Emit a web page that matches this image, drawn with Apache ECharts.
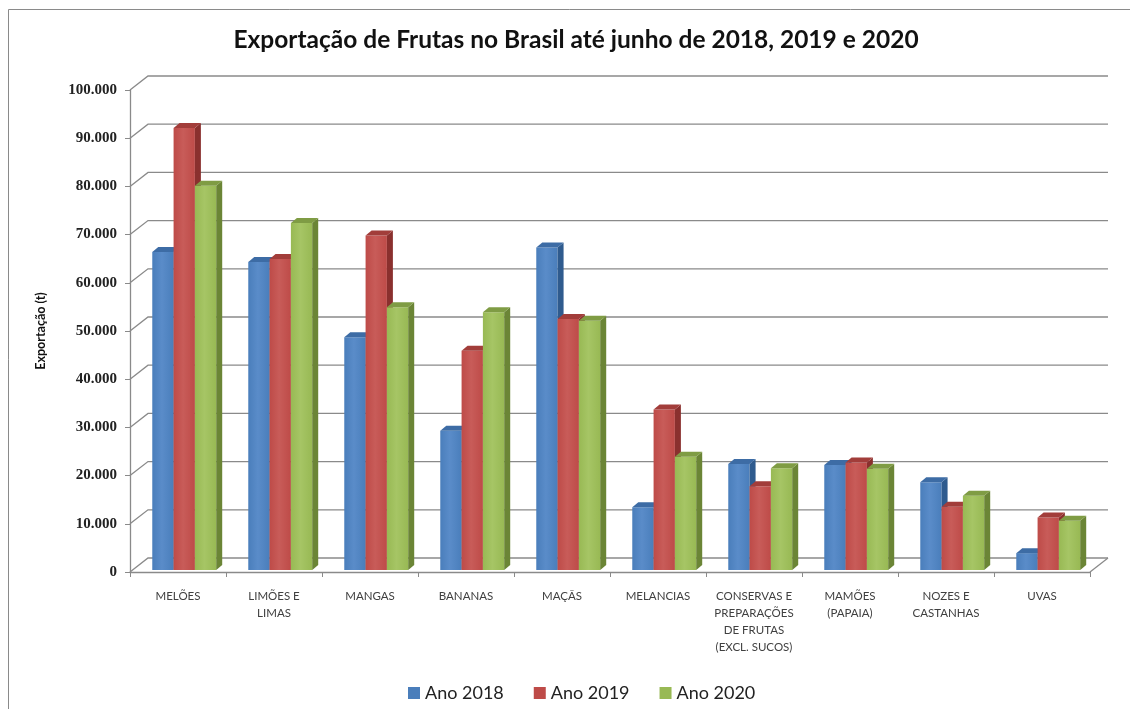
<!DOCTYPE html>
<html>
<head>
<meta charset="utf-8">
<script src="https://cdn.jsdelivr.net/npm/echarts@6/dist/echarts.min.js"></script>
<style>
html,body{margin:0;padding:0;background:#fff;}
#c{width:1130px;height:709px;}
</style>
</head>
<body>
<div id="c"></div>
<script>
var categories = ['MELÕES', 'LIMÕES E\nLIMAS', 'MANGAS', 'BANANAS', 'MAÇÃS', 'MELANCIAS',
  'CONSERVAS E\nPREPARAÇÕES\nDE FRUTAS\n(EXCL. SUCOS)', 'MAMÕES\n(PAPAIA)', 'NOZES E\nCASTANHAS', 'UVAS'];
var seriesNames = ['Ano 2018', 'Ano 2019', 'Ano 2020'];
var ano2018 = [66000, 63900, 48300, 28900, 66900, 13000, 22000, 21800, 18200, 3500];
var ano2019 = [91700, 64500, 69400, 45500, 52100, 33300, 17400, 22300, 13100, 10900];
var ano2020 = [79700, 72000, 54500, 53500, 51700, 23500, 21100, 21000, 15400, 10200];
var yTicks = [0, 10000, 20000, 30000, 40000, 50000, 60000, 70000, 80000, 90000, 100000];

var palette = [
  {front: '#4A7EBB', light: '#5A8CC9', side: '#2F5B8E', top: '#3D6CA5'},
  {front: '#BE4B48', light: '#C85C59', side: '#8A302E', top: '#A23D3A'},
  {front: '#98B954', light: '#A6C565', side: '#6B8536', top: '#7F9C44'}
];
var DX = 18, DY = -14;

function gridRender(params, api) {
  var v = api.value(1);
  var p = api.coord([0, v]);
  var band = api.size([1, 0])[0];
  var xL = p[0] - band / 2;
  var xR = xL + band * categories.length;
  var y = p[1];
  var children = [{
    type: 'polyline',
    shape: {points: [[xL, y], [xL + DX, y + DY], [xR + DX, y + DY]]},
    style: {stroke: '#8a8a8a', lineWidth: 1.3, fill: null}
  }];
  if (v === 0) {
    children.push({
      type: 'line',
      shape: {x1: xR, y1: y, x2: xR + DX, y2: y + DY},
      style: {stroke: '#8a8a8a', lineWidth: 1.3}
    });
  }
  return {type: 'group', children: children};
}

function barRender(k) {
  var c = palette[k];
  return function (params, api) {
    var i = api.value(0), v = api.value(1);
    var band = api.size([1, 0])[0];
    var top = api.coord([i, v]);
    var base = api.coord([i, 0]);
    var catStart = top[0] - band / 2;
    var w = band * 0.222;
    var x0 = catStart + band * 0.232 + k * w;
    var x1 = x0 + w;
    var yT = top[1] - 2, yB = base[1] - 2;
    var dx = 6, dy = -5;
    return {type: 'group', children: [
      {type: 'rect', shape: {x: x0, y: yT, width: w, height: yB - yT},
        style: {fill: new echarts.graphic.LinearGradient(0, 0, 1, 0, [
          {offset: 0, color: c.front}, {offset: 0.45, color: c.light}, {offset: 1, color: c.front}])}},
      {type: 'polygon', shape: {points: [[x1, yB], [x1 + dx, yB + dy], [x1 + dx, yT + dy], [x1, yT]]},
        style: {fill: c.side}},
      {type: 'polygon', shape: {points: [[x0, yT], [x0 + dx, yT + dy], [x1 + dx, yT + dy], [x1, yT]]},
        style: {fill: c.top}}
    ]};
  };
}

function toData(arr) { return arr.map(function (v, i) { return [i, v]; }); }
var values = [ano2018, ano2019, ano2020];

var series = [{
  type: 'custom', name: 'grid', z: 1, silent: true,
  renderItem: gridRender, encode: {x: 0, y: 1},
  data: yTicks.map(function (v) { return [0, v]; })
}];
for (var k = 0; k < 3; k++) {
  series.push({
    type: 'custom', name: seriesNames[k], z: 2,
    renderItem: barRender(k), encode: {x: 0, y: 1},
    itemStyle: {color: palette[k].front},
    data: toData(values[k])
  });
}

var chart = echarts.init(document.getElementById('c'), null, {renderer: 'canvas'});
chart.setOption({
  backgroundColor: '#ffffff',
  animation: false,
  title: {
    text: 'Exportação de Frutas no Brasil até junho de 2018, 2019 e 2020',
    left: 571, top: 23, textAlign: 'center',
    textStyle: {fontFamily: 'Lato', fontWeight: 'bold', fontSize: 24.5, color: '#111'}
  },
  legend: {
    data: seriesNames, left: 403, top: 679,
    icon: 'rect', itemWidth: 12, itemHeight: 12, itemGap: 30,
    textStyle: {fontFamily: 'Lato', fontSize: 18, color: '#222'}
  },
  grid: {left: 130, right: 40, top: 90, bottom: 137, containLabel: false},
  xAxis: {
    type: 'category', data: categories,
    axisLine: {show: true, lineStyle: {color: '#8a8a8a', width: 1.3}},
    axisTick: {show: true, length: 5, lineStyle: {color: '#8a8a8a'}},
    axisLabel: {interval: 0, margin: 16, lineHeight: 17, fontFamily: 'Lato', fontSize: 11.5, color: '#404040'},
    splitLine: {show: false}
  },
  yAxis: {
    type: 'value', min: 0, max: 100000, interval: 10000,
    name: 'Exportação (t)', nameLocation: 'middle', nameRotate: 90, nameGap: 83,
    nameTextStyle: {fontFamily: 'Lato', fontWeight: 'bold', fontSize: 12.5, color: '#111'},
    axisLine: {show: true, lineStyle: {color: '#8a8a8a', width: 1.3}},
    axisTick: {show: true, length: 5, lineStyle: {color: '#8a8a8a'}},
    axisLabel: {
      margin: 13, fontFamily: 'Liberation Serif', fontWeight: 'bold', fontSize: 15, color: '#222',
      formatter: function (v) { return v === 0 ? '0' : (v / 1000) + '.000'; }
    },
    splitLine: {show: false}
  },
  graphic: [{
    type: 'rect', shape: {x: 8.5, y: 9.5, width: 1200, height: 800},
    style: {fill: null, stroke: '#8a8a8a', lineWidth: 1}, silent: true, z: -10
  }],
  series: series
});
</script>
</body>
</html>
